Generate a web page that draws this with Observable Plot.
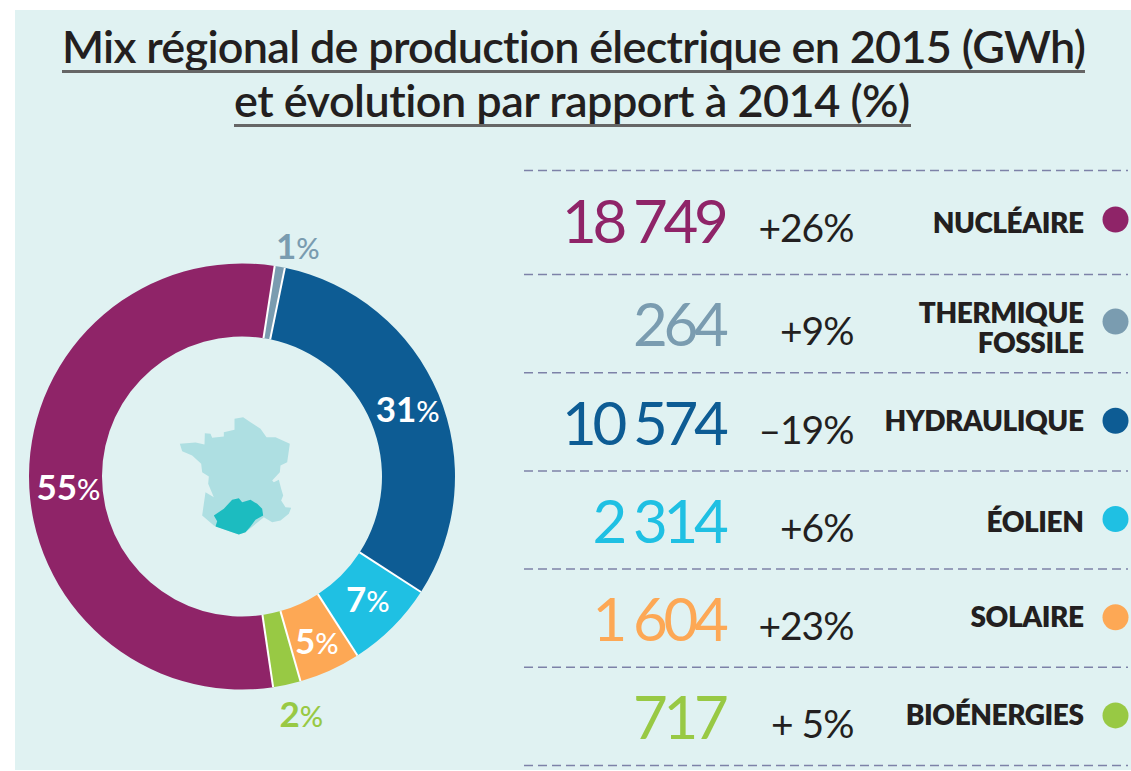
<!DOCTYPE html>
<html lang="fr">
<head>
<meta charset="utf-8">
<script src="https://cdn.jsdelivr.net/npm/d3@7"></script>
<script src="https://cdn.jsdelivr.net/npm/@observablehq/plot@0.6"></script>
<style>
  html, body { margin: 0; padding: 0; background: #fff; }
  body { width: 1131px; height: 771px; overflow: hidden; position: relative; font-family: Lato, sans-serif; }
  #panel { position: absolute; left: 15px; top: 10px; width: 1116px; height: 760px; background: #e0f2f2; }
  .title { position: absolute; white-space: nowrap; font-size: 45px; font-weight: 600; color: #231f20; line-height: 1; }
  .rule { position: absolute; height: 3px; background: #666; }
  .layer { position: absolute; left: 0; top: 0; }
  .layer svg { display: block; background: transparent; overflow: visible; }
  .num text { letter-spacing: -4.3px; word-spacing: -1px; }
  .pct text { letter-spacing: -1px; }
  .lab text { letter-spacing: -0.45px; }
</style>
</head>
<body>
<div id="panel"></div>
<div class="title" style="left:62px;top:24px;letter-spacing:-0.72px">Mix régional de production électrique en 2015 (GWh)</div>
<div class="rule" style="left:62px;top:70px;width:1023px"></div>
<div class="title" style="left:234px;top:78px;letter-spacing:-0.52px">et évolution par rapport à 2014 (%)</div>
<div class="rule" style="left:234px;top:124px;width:677px"></div>
<div class="layer" id="map"></div>
<div class="layer" id="donut"></div>
<div class="layer" id="table"></div>
<script>
// ---- data ----
const categories = ["NUCLÉAIRE", "THERMIQUE\nFOSSILE", "HYDRAULIQUE", "ÉOLIEN", "SOLAIRE", "BIOÉNERGIES"];
const production = [18749, 264, 10574, 2314, 1604, 717];
const evolution = ["+26%", "+9%", "–19%", "+6%", "+23%", "+ 5%"];
const shares = [55, 1, 31, 7, 5, 2];
const colours = ["#8f2468", "#7a9cb0", "#0d5c94", "#1fc0e3", "#fda855", "#98c944"];

const franceX = [58,105,132,133,150,155,190,190,222,222,248,270,300,318,345,388,380,360,358,335,340,355,362,368,362,375,392,385,360,335,310,280,255,235,215,160,125,135,160,143,145,125,122,95,65];
const franceY = [130,126,132,98,100,112,108,95,88,55,50,65,85,110,110,130,185,195,215,240,245,238,265,285,300,320,322,340,360,365,350,375,395,402,395,375,345,275,290,250,228,215,190,165,152];
const regionX = [160,190,215,235,245,270,290,305,308,285,270,255,235,215,165,170];
const regionY = [345,325,298,293,305,298,310,325,345,358,378,395,402,395,378,362];

// ---- layout of the table: the rules are not evenly spaced ----
const ruleScale = d3.scaleLinear().domain([0, 1, 6]).range([170, 274, 765]);
const rowShift = [-2, -1, 0, 0, 0, 0];
const nameShift = [0, 3, -3, -1, -4, -4];

// ---- tables for the library ----
const fmt = d3.formatLocale({decimal: ",", thousands: " ", grouping: [3], currency: ["", ""]}).format(",d");
const rows = categories.map((name, i) => ({
  name, i, value: production[i], evo: evolution[i], share: shares[i], colour: colours[i],
  label: fmt(production[i]),
  row: ruleScale(i + 0.5) + rowShift[i],
  nameRow: ruleScale(i + 0.5) + rowShift[i] + nameShift[i],
  textRow: ruleScale(i + 0.5) + rowShift[i] - (i === 0 ? 1 : 0)
}));

// pie starts at the boundary between bioenergies and nuclear, clockwise
const startAngle = 171.6 * Math.PI / 180;
const arcs = d3.pie().sort(null).value(d => d.value)
  .startAngle(startAngle).endAngle(startAngle + 2 * Math.PI)(rows);
const innerRatio = 140 / 213;
const mid = innerRatio / 2 + 0.5;
const pxPerUnit = 213;
// hand placement of the labels relative to the slice centroid (pixels)
const nudge = [[11, 24], [22.5, -44], [11, 13], [-1, 10], [0, 16], [20, 77]];
const labels = arcs.map((a, i) => {
  const t = (a.startAngle + a.endAngle) / 2;
  const inside = ![1, 5].includes(i);
  return {
    x: mid * Math.sin(t) + nudge[i][0] / pxPerUnit,
    y: mid * Math.cos(t) - nudge[i][1] / pxPerUnit,
    share: a.data.share, fill: inside ? "#fff" : a.data.colour
  };
});

function donutMark(index, {x, y}) {
  const R = x(1) - x(0);
  const arc = d3.arc().outerRadius(R).innerRadius(R * innerRatio);
  const g = d3.create("svg:g").attr("transform", `translate(${x(0)},${y(0)})`);
  g.selectAll("path").data(arcs).join("path")
    .attr("d", arc)
    .attr("fill", d => d.data.colour);
  // thin white separators between the slices only
  g.selectAll("line").data(arcs).join("line")
    .attr("x1", d => R * innerRatio * Math.sin(d.startAngle))
    .attr("y1", d => -R * innerRatio * Math.cos(d.startAngle))
    .attr("x2", d => R * Math.sin(d.startAngle))
    .attr("y2", d => -R * Math.cos(d.startAngle))
    .attr("stroke", "#fff")
    .attr("stroke-width", 2);
  return g.node();
}

// ---- France inset ----
const mapHost = document.getElementById("map");
mapHost.style.left = "160px";
mapHost.style.top = "400px";
mapHost.append(Plot.plot({
  width: 150, height: 150, margin: 0,
  x: {domain: [0, 450], range: [0, 150], axis: null},
  y: {domain: [0, 450], range: [0, 150], axis: null},
  marks: [
    Plot.line(franceX.map((x, i) => ({x, y: franceY[i]})), {x: "x", y: "y", fill: "#aedfe2", stroke: "none"}),
    Plot.line(regionX.map((x, i) => ({x, y: regionY[i]})), {x: "x", y: "y", fill: "#1cbcc0", stroke: "none"})
  ]
}));

// ---- Donut ----
const labelFont = {fontFamily: "Lato, sans-serif", lineAnchor: "bottom"};
document.getElementById("donut").append(Plot.plot({
  width: 520, height: 771, margin: 0,
  x: {domain: [-1, 1], range: [29, 455], axis: null},
  y: {domain: [1, -1], range: [263.5, 689.5], axis: null},
  marks: [
    donutMark,
    Plot.text(labels, {...labelFont, x: "x", y: "y", text: d => d.share, fill: "fill", textAnchor: "end",
      fontSize: 35, fontWeight: 700}),
    Plot.text(labels, {...labelFont, x: "x", y: "y", text: () => "%", fill: "fill", textAnchor: "start",
      fontSize: 29, fontWeight: 500})
  ]
}));

// ---- Table ----
const ruleY = d3.range(0, 7).map(i => ruleScale(i));
document.getElementById("table").append(Plot.plot({
  width: 1131, height: 771, margin: 0,
  x: {domain: [0, 1131], range: [0, 1131], axis: null},
  y: {domain: [0, 771], range: [0, 771], axis: null},
  marks: [
    Plot.ruleY(ruleY, {x1: 524, x2: 1128, stroke: "#7d82a8", strokeWidth: 1.5, strokeDasharray: "9 5"}),
    Plot.text(rows, {x: () => 724, y: "textRow", text: "label", fill: "colour", className: "num", lineAnchor: "bottom", dy: 23,
      textAnchor: "end", fontFamily: "Lato, sans-serif", fontWeight: 400, fontSize: 60}),
    Plot.text(rows, {x: () => 853, y: "textRow", text: "evo", fill: "#231f20", className: "pct", lineAnchor: "bottom", dy: 22,
      textAnchor: "end", fontFamily: "Lato, sans-serif", fontWeight: 400, fontSize: 39}),
    Plot.text(rows, {x: () => 1083, y: "nameRow", text: "name", fill: "#231f20", className: "lab", lineAnchor: "middle", dy: 3, lineHeight: 1.08,
      textAnchor: "end", fontFamily: "Lato, sans-serif", fontWeight: 800, fontSize: 28}),
    Plot.dot(rows, {x: () => 1115, y: "row", r: 13, fill: "colour", stroke: "none", dy: -1})
  ]
}));
</script>
</body>
</html>
